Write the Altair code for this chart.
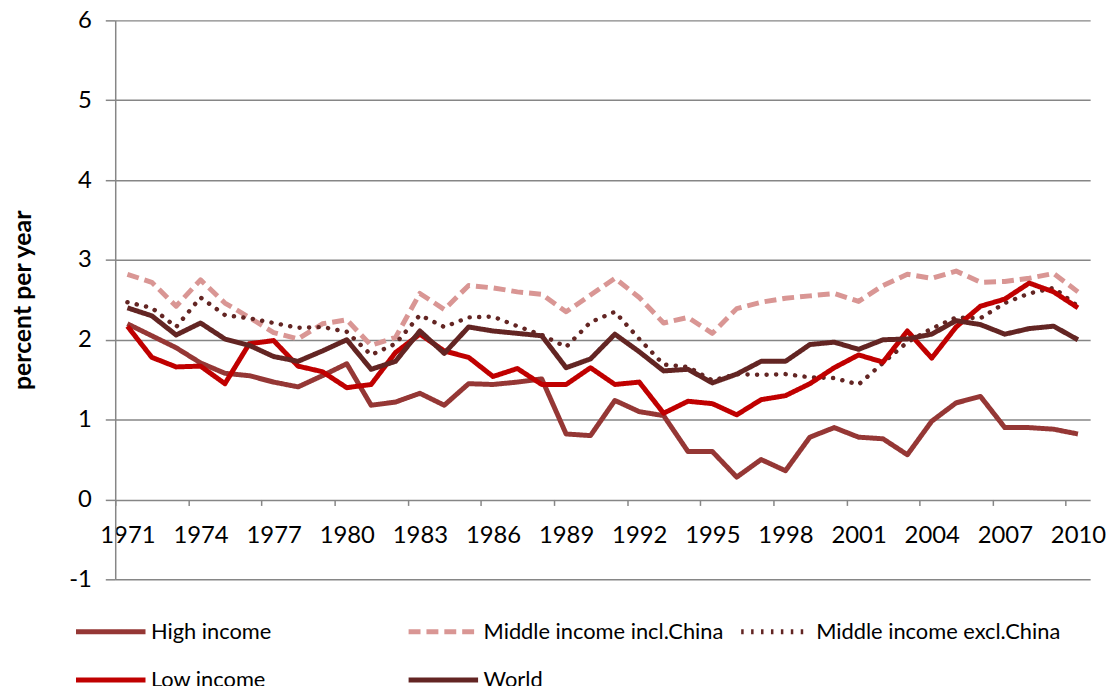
import altair as alt
import pandas as pd

years = list(range(1971, 2011))
series = ["High income", "Middle income incl.China", "Middle income excl.China", "Low income", "World"]
colors = ["#953735", "#D99694", "#632523", "#C00000", "#632523"]
dashes = [[1, 0], [12, 6], [2.5, 7.5], [1, 0], [1, 0]]

high = [2.20, 2.05, 1.90, 1.71, 1.58, 1.55, 1.47, 1.41, 1.55, 1.70,
        1.18, 1.22, 1.33, 1.18, 1.45, 1.44, 1.47, 1.51, 0.82, 0.80,
        1.24, 1.10, 1.05, 0.60, 0.60, 0.28, 0.50, 0.36, 0.78, 0.90,
        0.78, 0.76, 0.56, 0.98, 1.21, 1.29, 0.90, 0.90, 0.88, 0.82]
mid_incl = [2.82, 2.72, 2.42, 2.75, 2.46, 2.28, 2.09, 2.01, 2.20, 2.25,
            1.93, 2.03, 2.58, 2.38, 2.68, 2.65, 2.60, 2.57, 2.35, 2.56,
            2.77, 2.53, 2.21, 2.28, 2.08, 2.39, 2.47, 2.52, 2.55, 2.58,
            2.48, 2.68, 2.82, 2.77, 2.86, 2.72, 2.73, 2.77, 2.83, 2.60]
mid_excl = [2.47, 2.40, 2.16, 2.53, 2.31, 2.27, 2.21, 2.15, 2.16, 2.10,
            1.81, 1.95, 2.31, 2.16, 2.28, 2.29, 2.17, 2.06, 1.91, 2.22,
            2.35, 2.01, 1.69, 1.66, 1.49, 1.57, 1.56, 1.57, 1.53, 1.52,
            1.44, 1.71, 1.97, 2.14, 2.28, 2.27, 2.46, 2.58, 2.65, 2.42]
low = [2.17, 1.78, 1.66, 1.67, 1.45, 1.95, 1.99, 1.67, 1.60, 1.40,
       1.44, 1.84, 2.07, 1.86, 1.78, 1.54, 1.64, 1.44, 1.44, 1.65,
       1.44, 1.47, 1.08, 1.23, 1.20, 1.06, 1.25, 1.30, 1.45, 1.65,
       1.81, 1.72, 2.11, 1.77, 2.16, 2.42, 2.51, 2.71, 2.60, 2.40]
world = [2.40, 2.30, 2.06, 2.21, 2.01, 1.93, 1.79, 1.73, 1.86, 2.00,
         1.63, 1.73, 2.11, 1.83, 2.16, 2.11, 2.08, 2.05, 1.65, 1.76,
         2.07, 1.85, 1.61, 1.63, 1.46, 1.57, 1.73, 1.73, 1.94, 1.97,
         1.88, 2.00, 2.01, 2.07, 2.24, 2.19, 2.07, 2.14, 2.17, 2.00]

y_ticks = [-1, 0, 1, 2, 3, 4, 5, 6]
x_tick_bounds = [1970.5 + 3 * k for k in range(14)]

rows = []
for name, vals in zip(series, [high, mid_incl, mid_excl, low, world]):
    for yr, v in zip(years, vals):
        rows.append({"year": yr, "series": name, "value": v})
df = pd.DataFrame(rows)

FONT = "Lato"
GRID = "#868686"
W, H = 982, 563

x_enc = alt.X(
    "year:Q",
    scale=alt.Scale(domain=[1970.5, 2010.5], nice=False, zero=False),
    axis=alt.Axis(
        values=x_tick_bounds,
        labelExpr="format(datum.value + 0.5, 'd')",
        labelOffset=W / 40 / 2,
        offset=-H / 7,
        domain=False,
        grid=False,
        tickSize=6,
        tickColor=GRID,
        tickWidth=1.5,
        labelFont=FONT,
        labelFontSize=24,
        labelColor="#000000",
        labelPadding=18,
        labelOverlap=False,
        labelFlush=False,
        title=None,
    ),
)
y_enc = alt.Y(
    "value:Q",
    scale=alt.Scale(domain=[-1, 6], nice=False, zero=False),
    axis=alt.Axis(
        values=y_ticks,
        labelExpr="datum.value < 0 ? '-' + abs(datum.value) : datum.label",
        grid=True,
        gridColor=GRID,
        gridWidth=1.5,
        domainColor=GRID,
        domainWidth=1.5,
        tickColor=GRID,
        tickWidth=1.5,
        tickSize=10,
        labelFont=FONT,
        labelFontSize=24,
        labelColor="#000000",
        labelPadding=14,
        title="percent per year",
        titleFont=FONT,
        titleFontSize=25,
        titleFontWeight="bold",
        titleColor="#000000",
        titlePadding=34,
    ),
)

legend = alt.Legend(
    title=None,
    orient="none",
    direction="horizontal",
    legendX=-42,
    legendY=578,
    columns=3,
    gridAlign="all",
    symbolType="stroke",
    symbolSize=4900,
    symbolStrokeWidth=5,
    labelFont=FONT,
    labelFontSize=22,
    labelColor="#000000",
    labelOffset=3,
    rowPadding=-33,
    columnPadding=2,
    padding=0,
    labelLimit=400,
)

color_enc = alt.Color("series:N", scale=alt.Scale(domain=series, range=colors), legend=legend)
dash_enc = alt.StrokeDash("series:N", scale=alt.Scale(domain=series, range=dashes), legend=legend)

base = alt.Chart(df)
l1 = base.transform_filter(
    alt.FieldOneOfPredicate(field="series", oneOf=series[:2])
).mark_line(strokeWidth=5, strokeJoin="round").encode(x=x_enc, y=y_enc, color=color_enc, strokeDash=dash_enc)
l2 = base.transform_filter(
    alt.FieldOneOfPredicate(field="series", oneOf=[series[2]])
).mark_line(strokeWidth=4.5, strokeJoin="round", strokeCap="round").encode(
    x=x_enc, y=y_enc, color=color_enc, strokeDash=alt.value([0.1, 9.5])
)
l3 = base.transform_filter(
    alt.FieldOneOfPredicate(field="series", oneOf=series[3:])
).mark_line(strokeWidth=5, strokeJoin="round").encode(x=x_enc, y=y_enc, color=color_enc, strokeDash=dash_enc)

chart = alt.layer(l1, l2, l3).properties(
    width=W,
    height=H,
    autosize=alt.AutoSizeParams(type="none"),
    padding={"left": 108, "top": 10, "right": 20, "bottom": 106},
    background="white",
).configure_view(stroke=None)

chart.save("out.html", embed_options={"renderer": "svg", "actions": False})
